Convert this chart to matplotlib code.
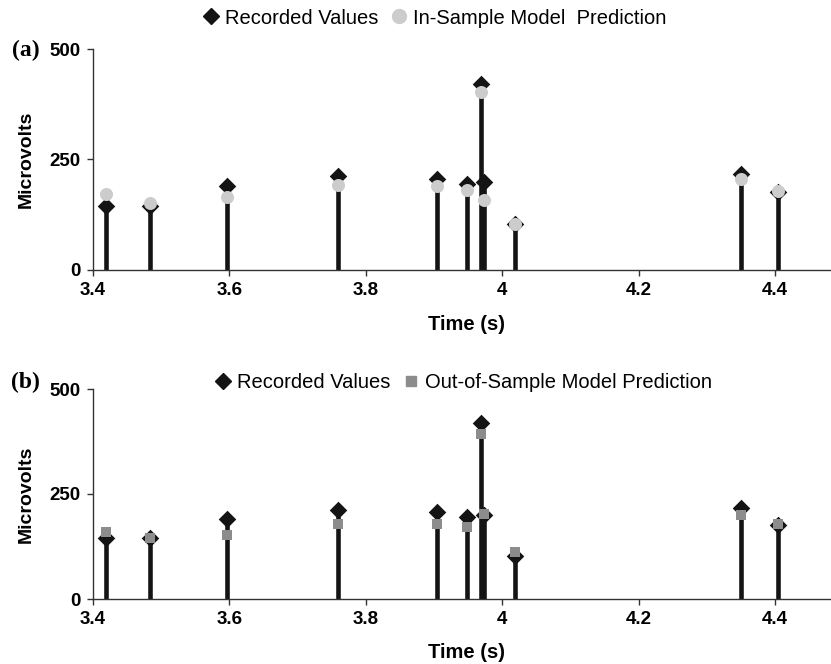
import matplotlib
matplotlib.use("Agg")
import matplotlib.pyplot as plt
from matplotlib.lines import Line2D

# ---- data ----
times = [3.419, 3.484, 3.596, 3.759, 3.905, 3.948, 3.969, 3.973, 4.019, 4.350, 4.404]
recorded = [145, 145, 190, 212, 207, 195, 420, 199, 103, 217, 176]
in_sample = [171, 151, 166, 192, 191, 182, 403, 158, 103, 205, 179]
out_sample = [159, 145, 153, 179, 179, 171, 394, 203, 113, 201, 179]
x_ticks = [3.4, 3.6, 3.8, 4.0, 4.2, 4.4]
x_tick_labels = ["3.4", "3.6", "3.8", "4", "4.2", "4.4"]
y_ticks = [0, 250, 500]

SANS = "Liberation Sans"
SERIF = "Liberation Serif"
W, H = 831, 664

fig = plt.figure(figsize=(W/100, H/100), dpi=100)
ax1 = fig.add_axes([93/W, 1-270/H, 738/W, 221/H])
ax2 = fig.add_axes([93/W, 1-599/H, 738/W, 210/H])

def style(ax, pred, pred_marker, pred_color, pred_size):
    ax.vlines(times, 0, recorded, color="#141414", lw=3.3, zorder=2)
    ax.scatter(times, recorded, marker="D", s=80, color="#141414", zorder=3, linewidths=0)
    ax.scatter(times, pred, marker=pred_marker, s=pred_size, color=pred_color, zorder=4, linewidths=0)
    ax.set_xlim(3.4, 3.4 + 738/682)
    ax.set_ylim(0, 500)
    ax.spines[["top", "right"]].set_visible(False)
    for s in ("left", "bottom"):
        ax.spines[s].set_color("#333333")
        ax.spines[s].set_linewidth(1.0)
    ax.set_xticks(x_ticks)
    ax.set_xticklabels(x_tick_labels, fontfamily=SANS, fontweight="bold", fontsize=13.5)
    ax.set_yticks(y_ticks)
    ax.set_yticklabels([str(v) for v in y_ticks], fontfamily=SANS, fontweight="bold", fontsize=13.5)
    ax.tick_params(direction="out", length=4, width=1, color="#333333", pad=5)

style(ax1, in_sample, "o", "#cccccc", 88)
style(ax2, out_sample, "s", "#8c8c8c", 52)

# axis titles
for yc in (159.5, 494):
    fig.text(26/W, 1-yc/H, "Microvolts", rotation=90, ha="center", va="center",
             fontfamily=SANS, fontweight="bold", fontsize=14)
for yc in (325, 652):
    fig.text(467/W, 1-yc/H, "Time (s)", ha="center", va="center",
             fontfamily=SANS, fontweight="bold", fontsize=14.5)

# panel labels
fig.text(12/W, 1-50/H, "(a)", ha="left", va="center", fontfamily=SERIF,
         fontweight="bold", fontsize=17)
fig.text(11/W, 1-382/H, "(b)", ha="left", va="center", fontfamily=SERIF,
         fontweight="bold", fontsize=17)

# legends
leg_kw = dict(loc="center", ncol=2, frameon=False, handlelength=0.8, handletextpad=0.3,
              columnspacing=0.6, prop={"family": SANS, "size": 14.5})
h1 = [Line2D([], [], marker="D", color="#141414", ls="", markersize=8),
      Line2D([], [], marker="o", color="#cccccc", ls="", markersize=10)]
fig.legend(h1, ["Recorded Values", "In-Sample Model  Prediction"],
           bbox_to_anchor=(434.5/W, 1-18/H), **leg_kw)
h2 = [Line2D([], [], marker="D", color="#141414", ls="", markersize=8),
      Line2D([], [], marker="s", color="#8c8c8c", ls="", markersize=7)]
fig.legend(h2, ["Recorded Values", "Out-of-Sample Model Prediction"],
           bbox_to_anchor=(463.5/W, 1-383/H), **leg_kw)

fig.savefig("out.png", dpi=100)
